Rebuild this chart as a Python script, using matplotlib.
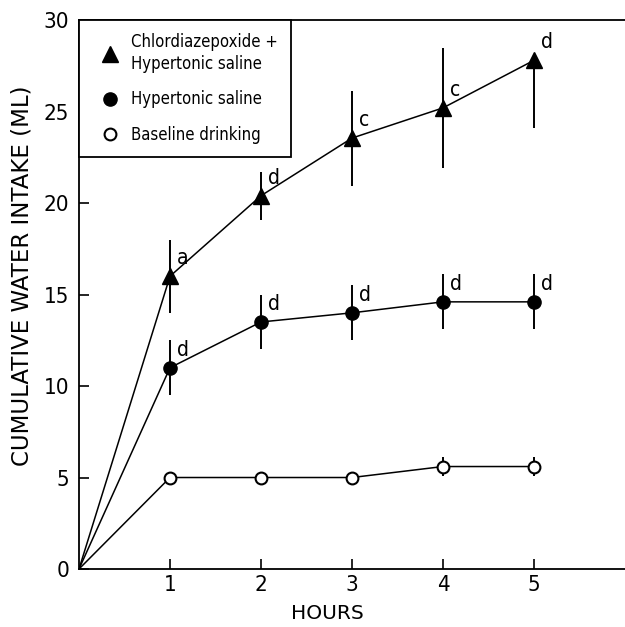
import matplotlib
matplotlib.use('Agg')
import matplotlib.pyplot as plt
from matplotlib.lines import Line2D
import numpy as np

# data (hour 0 = origin, no marker there)
hours = [0, 1, 2, 3, 4, 5]

cdp_saline = [0, 16.0, 20.4, 23.55, 25.2, 27.8]
cdp_err_lo = [0, 2.0, 1.3, 2.6, 3.3, 3.7]
cdp_err_hi = [0, 2.0, 1.3, 2.6, 3.3, 0.0]
cdp_letters = ['a', 'd', 'c', 'c', 'd']

saline = [0, 11.0, 13.5, 14.0, 14.6, 14.6]
saline_err = [0, 1.5, 1.5, 1.5, 1.5, 1.5]
saline_letters = ['d', 'd', 'd', 'd', 'd']

baseline = [0, 5.0, 5.0, 5.0, 5.6, 5.6]
baseline_err = [0, 0.0, 0.0, 0.0, 0.5, 0.5]

legend_labels = ['Chlordiazepoxide +\nHypertonic saline', 'Hypertonic saline', 'Baseline drinking']

fig = plt.figure(figsize=(6.25, 6.27), dpi=100)
ax = fig.add_axes([0.1264, 0.0925, 0.8736, 0.8755])

lw = 1.1
# error bars first (no caps)
ax.errorbar(hours[1:], cdp_saline[1:], yerr=[cdp_err_lo[1:], cdp_err_hi[1:]],
            fmt='none', ecolor='black', elinewidth=1.4, capsize=0, zorder=2)
ax.errorbar(hours[1:], saline[1:], yerr=saline_err[1:],
            fmt='none', ecolor='black', elinewidth=1.4, capsize=0, zorder=2)
ax.errorbar(hours[1:], baseline[1:], yerr=baseline_err[1:],
            fmt='none', ecolor='black', elinewidth=1.4, capsize=0, zorder=2)

ax.plot(hours, cdp_saline, color='black', lw=lw, marker='^', ms=12,
        markevery=slice(1, None), zorder=3)
ax.plot(hours, saline, color='black', lw=lw, marker='o', ms=9.5,
        markevery=slice(1, None), zorder=3)
ax.plot(hours, baseline, color='black', lw=lw, marker='o', ms=8.5, mfc='white',
        mec='black', mew=1.5, markevery=slice(1, None), zorder=3)

# significance letters
for x, y, s in zip(hours[1:], cdp_saline[1:], cdp_letters):
    ax.annotate(s, (x, y), xytext=(5, 13), textcoords='offset points',
                ha='left', va='center', fontsize=15, fontstretch='condensed')
for x, y, s in zip(hours[1:], saline[1:], saline_letters):
    ax.annotate(s, (x, y), xytext=(5, 13), textcoords='offset points',
                ha='left', va='center', fontsize=15, fontstretch='condensed')

ax.set_xlim(0, 6)
ax.set_ylim(0, 30)
ax.set_xticks([1, 2, 3, 4, 5])
ax.set_yticks([0, 5, 10, 15, 20, 25, 30])
ax.tick_params(direction='in', length=7, width=1.2, labelsize=16)
ax.tick_params(axis='x', pad=4)
ax.tick_params(axis='y', pad=7)
for lab in ax.get_xticklabels() + ax.get_yticklabels():
    lab.set_fontstretch('condensed')
ax.spines['right'].set_visible(False)
for sp in ['left', 'bottom', 'top']:
    ax.spines[sp].set_linewidth(1.3)

ax.set_xlabel('HOURS', fontsize=14.5)
ax.xaxis.set_label_coords(0.454, -0.064)
ax.set_ylabel('CUMULATIVE WATER INTAKE (ML)', fontsize=16.5, va='center')
ax.yaxis.set_label_coords(-0.104, 0.535)

handles = [
    Line2D([], [], color='black', marker='^', ms=12, ls='none'),
    Line2D([], [], color='black', marker='o', ms=9.5, ls='none'),
    Line2D([], [], color='black', marker='o', ms=8.5, mfc='white', mew=1.5, ls='none'),
]
leg = ax.legend(handles, legend_labels, loc='upper left', borderaxespad=0,
                fancybox=False, edgecolor='black', framealpha=1,
                prop={'size': 12, 'stretch': 'condensed'},
                handletextpad=0.2, labelspacing=1.05, borderpad=0.8, handlelength=2.1)
leg.get_frame().set_linewidth(1.3)
leg.get_texts()[0].set_linespacing(1.25)

fig.savefig('out.png', dpi=100)
